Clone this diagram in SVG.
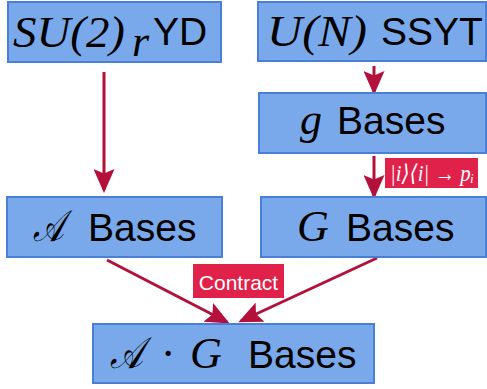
<svg xmlns="http://www.w3.org/2000/svg" width="487" height="389" viewBox="0 0 487 389">
<style>
.box{fill:#79a9ea;stroke:#4a7fd6;stroke-width:2}
.sans{font-family:"Liberation Sans",Arial,sans-serif;font-size:39px;fill:#000}
.math{font-family:"Liberation Serif","DejaVu Serif",serif;font-style:italic;font-size:44px;fill:#000}
.conn{stroke:#b3103c;stroke-width:3;fill:none;marker-end:url(#ah)}
.lbl{fill:#e0224b}
.lt{fill:#fff}
</style>
<defs>
<marker id="ah" markerWidth="8" markerHeight="7" refX="7" refY="3.5" orient="auto" markerUnits="strokeWidth">
<path d="M0,0 L8,3.5 L0,7 L1.5,3.5 z" fill="#b3103c"/>
</marker>
</defs>
<rect width="487" height="389" fill="#fff"/>
<g id="connectors">
<line class="conn" x1="104" y1="72" x2="104" y2="190"/>
<line class="conn" x1="374" y1="66" x2="374" y2="92"/>
<line class="conn" x1="374" y1="156" x2="374" y2="196"/>
<line class="conn" x1="107" y1="260" x2="227" y2="322"/>
<line class="conn" x1="377" y1="258" x2="241" y2="321"/>
</g>
<g id="su2">
<rect class="box" x="8" y="2" width="213" height="60"/>
<text class="math" x="13" y="47" textLength="112" lengthAdjust="spacingAndGlyphs">SU(2)</text>
<text class="math" x="132" y="56" font-size="26">r</text>
<text class="sans" x="153" y="45">YD</text>
</g>
<g id="un">
<rect class="box" x="258" y="2" width="228" height="59"/>
<text class="math" x="267" y="46" textLength="100" lengthAdjust="spacingAndGlyphs">U(N)</text>
<text class="sans" x="381" y="45">SSYT</text>
</g>
<g id="gbases">
<rect class="box" x="259" y="93" width="227" height="60"/>
<text class="math" x="300" y="134">g</text>
<text class="sans" x="337" y="134">Bases</text>
</g>
<g id="abases">
<rect class="box" x="7" y="197" width="215" height="60"/>
<text class="math" x="33" y="241" textLength="31" lengthAdjust="spacingAndGlyphs">𝒜</text>
<text class="sans" x="88" y="241">Bases</text>
</g>
<g id="Gbases">
<rect class="box" x="261" y="197" width="225" height="60"/>
<text class="math" x="297" y="241">G</text>
<text class="sans" x="346" y="241">Bases</text>
</g>
<g id="agbases">
<rect class="box" x="93" y="324" width="281" height="59"/>
<text class="math" x="110" y="368" textLength="33" lengthAdjust="spacingAndGlyphs">𝒜</text>
<text class="math" x="162" y="368" font-style="normal">·</text>
<text class="math" x="190" y="368">G</text>
<text class="sans" x="248" y="368">Bases</text>
</g>
<g id="label-proj">
<rect class="lbl" x="385" y="158" width="93" height="30"/>
<text class="lt" x="390" y="181" font-family="Liberation Serif,'DejaVu Serif',serif" font-style="italic" font-size="23" textLength="84" lengthAdjust="spacingAndGlyphs">|i⟩⟨i| → pᵢ</text>
</g>
<g id="label-contract">
<rect class="lbl" x="193" y="264" width="91" height="34"/>
<text class="lt" x="238.5" y="290" text-anchor="middle" font-family="Liberation Sans,Arial,sans-serif" font-size="21">Contract</text>
</g>
</svg>
